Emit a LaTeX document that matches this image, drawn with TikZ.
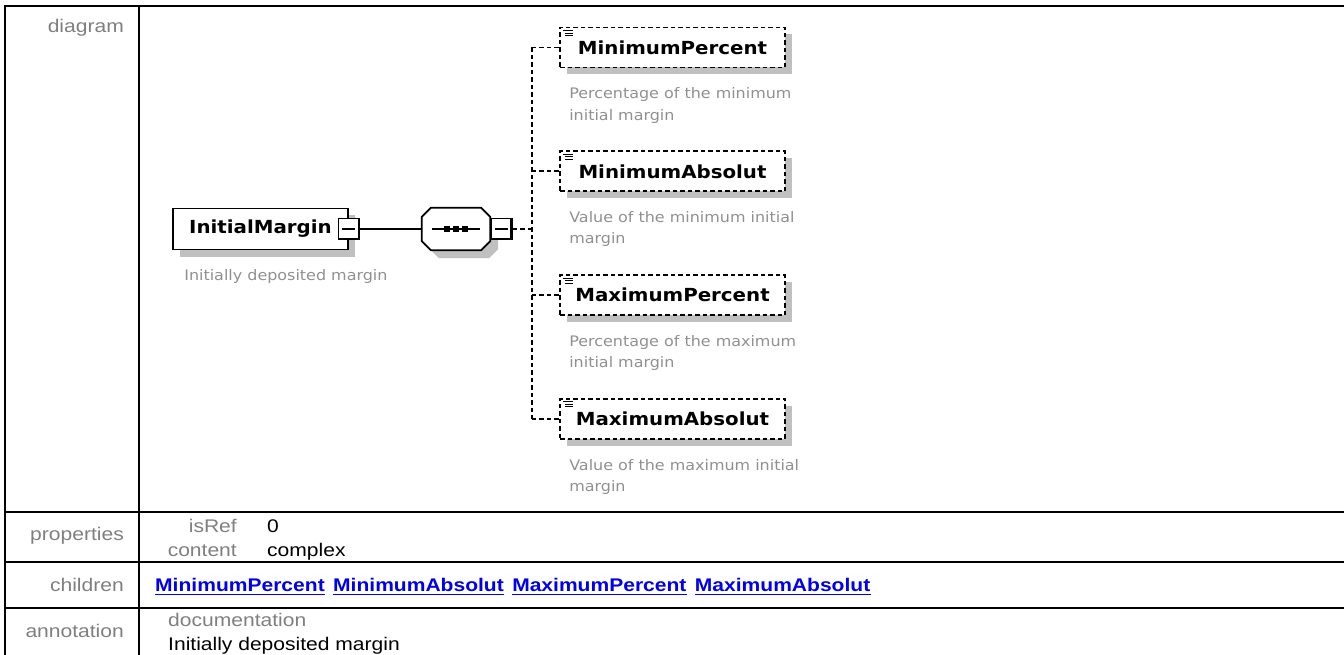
\documentclass[tikz,border=0pt]{standalone}
\usepackage{fontspec}
\setmainfont{Liberation Sans}
\newfontfamily\tabfont[FakeStretch=1.15]{Liberation Sans}
\newfontfamily\xsdfont[FakeStretch=1.1]{DejaVu Sans}
\usetikzlibrary{positioning,calc,shadows}
\definecolor{LabelGray}{HTML}{7F7F7F}
\definecolor{DocGray}{HTML}{909090}
\definecolor{ShadowGray}{HTML}{C0C0C0}
\definecolor{LinkBlue}{HTML}{0000EE}
% octagon of the sequence compositor: node, x offset, y offset
\newcommand\seqoct[3]{($(#1.north west)+(#2+9,#3)$) -- ($(#1.north east)+(#2-9,#3)$) -- ($(#1.north east)+(#2,#3+9)$) -- ($(#1.south east)+(#2,#3-9)$) -- ($(#1.south east)+(#2-9,#3)$) -- ($(#1.south west)+(#2+9,#3)$) -- ($(#1.south west)+(#2,#3-9)$) -- ($(#1.north west)+(#2,#3+9)$) -- cycle}

\begin{document}
\begin{tikzpicture}[
x=1pt,y=-1pt,
tabline/.style={line width=2pt},
lab/.style={inner sep=0,font=\tabfont\fontsize{18.3}{21}\selectfont,text=LabelGray},
val/.style={inner sep=0,font=\tabfont\fontsize{18.3}{21}\selectfont},
link/.style={inner sep=0,font=\tabfont\bfseries\fontsize{18.3}{21}\selectfont,text=LinkBlue},
elem/.style={draw,line width=1.8pt,fill=white,minimum height=41pt,inner sep=0,
  font=\xsdfont\bfseries\fontsize{18}{20}\selectfont,
  drop shadow={shadow xshift=7pt,shadow yshift=-7pt,fill=ShadowGray,opacity=1}},
optelem/.style={elem,dash pattern=on 4.5pt off 3pt,minimum width=225pt,minimum height=40pt,
  path picture={\draw[line width=0.9pt,solid]
    ([xshift=3pt,yshift=-3pt]path picture bounding box.north west) -- +(10pt,0pt)
    ([xshift=5pt,yshift=-5.5pt]path picture bounding box.north west) -- +(8pt,0pt)
    ([xshift=5pt,yshift=-8pt]path picture bounding box.north west) -- +(8pt,0pt);}},
doc/.style={inner sep=0,anchor=north west,align=left,font=\xsdfont\fontsize{14.5}{21.5}\selectfont,text=DocGray},
minus/.style={draw,fill=white,line width=1.6pt,minimum size=21pt,inner sep=0,
  path picture={\draw[line width=3.5pt] (path picture bounding box.north east) -- (path picture bounding box.south east) -- (path picture bounding box.south west);
    \draw[line width=1.5pt] ([xshift=4pt]path picture bounding box.west) -- ([xshift=-4pt]path picture bounding box.east);}},
conn/.style={line width=1.8pt},
optconn/.style={conn,dash pattern=on 4.5pt off 3pt}
]
\useasboundingbox (0,0) rectangle (1344,655);

% table frame
\draw[tabline] (4,6) -- (1344,6);
\draw[tabline] (5,6) -- (5,655);
\draw[tabline] (139,6) -- (139,655);
\draw[tabline] (4,512) -- (1344,512);
\draw[tabline] (4,562) -- (1344,562);
\draw[tabline] (4,608) -- (1344,608);

\node[lab,anchor=base east] (ldiag) at (124,33) {diagram};
\node[lab,anchor=base east] (lprop) at (124,540) {properties};
\node[lab,anchor=base east] (lchild) at (124,591) {children};
\node[lab,anchor=base east] (lannot) at (124,637) {annotation};

% diagram
\node[elem,minimum width=175pt] (im) at (260.5,229) {InitialMargin};
\node[minus] (imm) at (im.east) {};
\node[doc] (imdoc) at ($(im.south west)+(12,19)$) {Initially deposited margin};

\node[inner sep=0,minimum width=68pt,minimum height=42pt] (seq) at (456,229) {};
\fill[ShadowGray] \seqoct{seq}{8}{8};
\draw[conn,fill=white] \seqoct{seq}{0}{0};
\draw[conn] ($(seq.west)+(10,0)$) -- ($(seq.east)+(-10,0)$);
\foreach \dx in {-9,0,9}
  \fill ($(seq.center)+(\dx-3,-3)$) rectangle +(6,6);
\node[minus,anchor=west] (seqm) at (seq.east) {};
\draw[conn] (imm) -- (seq);

\node[optelem] (minp) at (672.5,47.5) {MinimumPercent};
\node[optelem,below=82pt of minp] (mina) {MinimumAbsolut};
\node[optelem,below=82pt of mina] (maxp) {MaximumPercent};
\node[optelem,below=82pt of maxp] (maxa) {MaximumAbsolut};
\node[doc] (minpdoc) at ($(minp.south west)+(10,19)$) {Percentage of the minimum\\initial margin};
\node[doc] (minadoc) at ($(mina.south west)+(10,19)$) {Value of the minimum initial\\margin};
\node[doc] (maxpdoc) at ($(maxp.south west)+(10,19)$) {Percentage of the maximum\\initial margin};
\node[doc] (maxadoc) at ($(maxa.south west)+(10,19)$) {Value of the maximum initial\\margin};

\coordinate (bus) at ($(seqm.east)+(19,0)$);
\draw[optconn] (seqm) -- (bus);
\draw[optconn] (bus |- minp.west) -- (bus |- maxa.west);
\draw[optconn] (bus |- minp.west) -- (minp.west);
\draw[optconn] (bus |- mina.west) -- (mina.west);
\draw[optconn] (bus |- maxp.west) -- (maxp.west);
\draw[optconn] (bus |- maxa.west) -- (maxa.west);

% properties
\node[lab,anchor=base east] (kref) at (237,532) {isRef};
\node[lab,anchor=base east] (kcont) at (237,556) {content};
\node[val,anchor=base west] (vref) at (267,532) {0};
\node[val,anchor=base west] (vcont) at (267,556) {complex};

% children
\node[link,anchor=base west] (c1) at (155,591) {MinimumPercent};
\node[link,base right=8pt of c1] (c2) {MinimumAbsolut};
\node[link,base right=8pt of c2] (c3) {MaximumPercent};
\node[link,base right=8pt of c3] (c4) {MaximumAbsolut};
\foreach \c in {c1,c2,c3,c4}
  \draw[LinkBlue,line width=1.6pt] ([yshift=-3.5pt]\c.base west) -- ([yshift=-3.5pt]\c.base east);

% annotation
\node[lab,anchor=base west] (kdoc) at (168,626) {documentation};
\node[val,anchor=base west] (vdoc) at (168,650) {Initially deposited margin};
\end{tikzpicture}
\end{document}
